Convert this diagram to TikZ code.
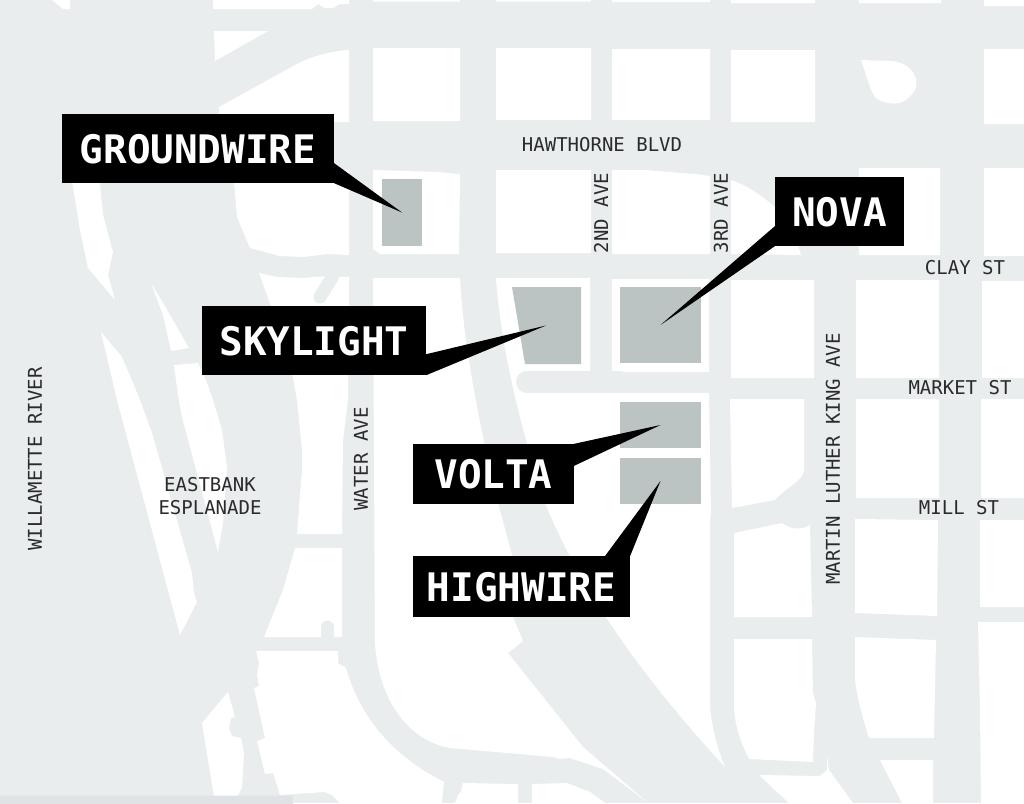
\documentclass[tikz,border=0pt]{standalone}
\usepackage{fontspec}
\setmonofont{DejaVu Sans Mono}
\definecolor{roadgray}{HTML}{E9EDEE}
\definecolor{sitegray}{HTML}{BBC4C2}
\definecolor{bargray}{HTML}{DFE3E6}
\definecolor{inkgray}{HTML}{2B2B2B}
\begin{document}
\begin{tikzpicture}[x=1pt,y=-1pt,
                    block/.style={fill=white},
                    stub/.style={draw=roadgray,line cap=round},
                    site node/.style={rectangle,fill=sitegray,inner sep=0pt},
                    callout node/.style={rectangle,fill=black,text=white,inner sep=0pt,text depth=0pt,
                                         font=\fontsize{39.3}{40}\selectfont\ttfamily\bfseries},
                    callout tip/.style={fill=black},
                    street name/.style={inner sep=0pt,text=inkgray,align=center,
                                        font=\fontsize{19}{23}\selectfont\ttfamily}]
  \useasboundingbox (0,0) rectangle (1024,803);
  \fill[roadgray] (0,0) rectangle (1024,803);

  % city grid
  \path[block] (373,0) rectangle (460,1.5)  (496,0) rectangle (591,1.5)
    (612,0) rectangle (710,2)  (731,0) rectangle (815,3)
    (859,0) rectangle (941,3)  (984,0) rectangle (1024,6)
    (373,48) rectangle (460,121)  (496,48) rectangle (591,120)
    (612,49) rectangle (710,120)  (731,50) rectangle (815,122)
    (984,49) rectangle (1024,124)
    (496,170) rectangle (591,253)
    (859,168) rectangle (940,255)  (984,168) rectangle (1024,256)
    (612,279) rectangle (709,372)
    (731,280) rectangle (814,378)  (856,280) rectangle (939,378)
    (982,281) rectangle (1024,378)
    (856,399) rectangle (939,498)  (981,399) rectangle (1024,498)
    (980,520) rectangle (1024,607);
  \path[block] (52,0) -- (63,9) -- (70,9) -- (70,0) -- cycle;
  \path[block] (213,0) -- (349,0) -- (349,4) -- (340,4) -- (333,8) -- (325,8) -- (318,4) -- (312,9) -- (213,9) -- cycle;
  \path[block] (214,31) -- (268,31) -- (215,61) -- cycle;
  \path[block] (219,107) -- (295,65) .. controls (310,57) and (330,51) .. (349,50) -- (349,122) -- (219,122) -- cycle;
  \path[block] (861,60) -- (892,61) .. controls (915,63) and (922,85) .. (912,94) .. controls (905,103) and (895,107) .. (879,100) .. controls (872,98) and (868,80) .. (861,60) -- cycle;
  \path[block] (233,170) -- (349,170) -- (349,255) -- (328,254) -- (303,257) -- (280,256) -- (250,248) -- (237,217) -- cycle;
  \path[block] (373,170) -- (437,172) -- (460,174) -- (459,254) -- (380,254) -- (373,249) -- cycle;
  \path[block] (612,170) -- (645,170) -- (695,174) -- (710,176) -- (710,254) -- (612,254) -- cycle;
  \path[block] (731,180) .. controls (745,184) and (765,197) .. (790,220) -- (801,255) -- (731,254) -- cycle;

  % riverside strips
  \path[block] (71,175) -- (99,175) -- (103,215) -- (113,252) -- (108,275) -- (115,300) -- (88,268) -- (80,230) -- cycle;
  \path[block] (151,283) -- (163,303) -- (189,348) -- (171,351) -- (163,315) -- cycle;
  \path[block] (101,332) -- (122,357) -- (133,383) -- (140,400) -- (152,433) -- (192,573) -- (194,593) -- (197,602) -- (180,635) -- (117,400) -- cycle;
  \path[block] (174,365) -- (198,363) -- (207,383) -- (213,400) -- (222,430) -- (227,467) -- (223,523) -- (218,552) -- (182,417) -- (178,395) -- cycle;
  \path[block] (259,273) -- (277,277) -- (303,278) -- (327,276) -- (349,277) -- (348,400) -- (343,440) -- (342,534) -- (297,534) -- (302,470) -- (302,450) -- (297,400) -- (293,377) -- (271,306) -- cycle;
  \path[block] (295,548) -- (342,548) -- (342,637) -- (264,637) -- (283,590) -- cycle;
  \path[block] (346,668) .. controls (358,710) and (385,752) .. (444,782) -- (442,803) -- (340,803) -- (332,795) -- (325,792) -- (280,795) -- (273,773) -- (265,774) -- (257,741) -- (265,738) -- (254,688) -- (259,686) -- (257,675) -- (259,663) -- (256,651) -- (338,651) -- (338,663) -- cycle;
  \path[block] (202,723) -- (228,692) -- (235,717) -- (231,718) -- (229,728) -- (232,736) -- (241,738) -- (244,753) -- (242,787) -- (238,796) -- (238,803) -- (215,803) -- cycle;
  \path[stub,line width=13pt] (333,276) -- (320,297);
  \path[stub,line width=13pt] (327,627) -- (327,642);

  % big wedge between Water Ave and the diagonal
  \path[block] (373,278) -- (460,278) .. controls (463,340) and (478,420) .. (498,503) -- (512,555) -- (513,617) -- (523,641) -- (508,653) -- (583,747) -- (647,802) -- (603,769) -- (570,758) -- (560,759) -- (553,757) -- (450,748) .. controls (405,740) and (378,695) .. (375,643) -- cycle;
  \path[block] (463,783) -- (518,784) -- (518,803) -- (455,803) -- cycle;
  \path[block] (532,784) -- (567,783) -- (590,792) -- (605,803) -- (532,803) -- cycle;
  \fill[roadgray] (453,787) circle (9);
  \path[block] (496,278) -- (590,278) -- (590,393) -- (709,393) -- (711,513) -- (710,520) -- (710,707) .. controls (712,730) and (718,750) .. (725,767) .. controls (650,685) and (585,600) .. (545,503) .. controls (525,440) and (502,360) .. (496,278) -- cycle;
  \path[stub,line width=22pt] (527,382) -- (620,382);

  % east of the diagonal
  \path[block] (730,399) -- (804,399) -- (804,470) .. controls (804,480) and (785,488) .. (775,500) -- (732,508) -- cycle;
  \path[block] (734,533) -- (782,523) .. controls (790,530) and (803,530) .. (810,525) -- (812,617) -- (734,617) -- cycle;
  \path[block] (734,639) -- (812,639) -- (813,693) -- (816,703) -- (814,733) -- (813,762) -- (749,759) .. controls (742,745) and (736,730) .. (734,710) -- cycle;
  \path[block] (759,775) -- (820,776) -- (827,770) -- (827,755) -- (829,770) -- (853,803) -- (789,803) -- cycle;
  \path[block] (855,519) -- (938,520) -- (937,616) -- (855,613) -- cycle;
  \path[block] (855,637) -- (936,640) -- (934,738) -- (869,738) .. controls (862,715) and (856,695) .. (855,677) -- cycle;
  \path[block] (880,760) -- (933,760) -- (933,803) -- (902,803) -- cycle;
  \path[block] (978,622) -- (1024,622) -- (1024,803) -- (981,803) -- (980,710) -- cycle;

  % scrollbar
  \fill[bargray,rounded corners=2pt] (-5,795.5) rectangle (293,810);

  % building sites
  \node[site node,minimum width=40pt,minimum height=67pt] (groundwire site) at (402,212.5) {};
  \fill[sitegray] (512,287) -- (581,287) -- (581,364) -- (525,364) -- cycle;
  \coordinate (skylight site) at (546,325.5);
  \node[site node,minimum width=81pt,minimum height=76pt] (nova site) at (660.5,325) {};
  \node[site node,minimum width=81pt,minimum height=46pt] (volta site) at (660.5,425) {};
  \node[site node,minimum width=81pt,minimum height=46pt] (highwire site) at (660.5,481) {};

  % street names
  \node[street name] (hawthorne) at (602,145) {HAWTHORNE BLVD};
  \node[street name] (clay) at (965,268) {CLAY ST};
  \node[street name] (market) at (960,388) {MARKET ST};
  \node[street name] (mill) at (959,508) {MILL ST};
  \node[street name,rotate=90] (second) at (601,213) {2ND AVE};
  \node[street name,rotate=90] (third) at (721,213) {3RD AVE};
  \node[street name,rotate=90] (king) at (833,459) {MARTIN LUTHER KING AVE};
  \node[street name,rotate=90] (water) at (361,459) {WATER AVE};
  \node[street name,rotate=90] (river) at (35,459) {WILLAMETTE RIVER};
  \node[street name] (esplanade) at (210,496) {EASTBANK\\ESPLANADE};

  % callouts
  \node[callout node,minimum width=272pt,minimum height=69pt] (groundwire) at (198,148.5) {GROUNDWIRE};
  \node[callout node,minimum width=224pt,minimum height=69pt] (skylight) at (314,340.5) {SKYLIGHT};
  \node[callout node,minimum width=129pt,minimum height=69pt] (nova) at (839.5,211.5) {NOVA};
  \node[callout node,minimum width=161pt,minimum height=60pt] (volta) at (493.5,474) {VOLTA};
  \node[callout node,minimum width=217pt,minimum height=61pt] (highwire) at (521.5,586.5) {HIGHWIRE};

  \path[callout tip] (groundwire.south east) -- (groundwire site.center) -- ([yshift=20pt]groundwire.south east) -- cycle;
  \path[callout tip] (skylight.south east) -- (skylight site) -- ([yshift=21pt]skylight.south east) -- cycle;
  \path[callout tip] (nova.south west) -- (nova site.center) -- ([yshift=20pt]nova.south west) -- cycle;
  \path[callout tip] (volta.north east) -- (volta site.center) -- ([yshift=-22pt]volta.north east) -- cycle;
  \path[callout tip] (highwire.north east) -- (highwire site.center) -- ([xshift=-25pt]highwire.north east) -- cycle;
\end{tikzpicture}
\end{document}
